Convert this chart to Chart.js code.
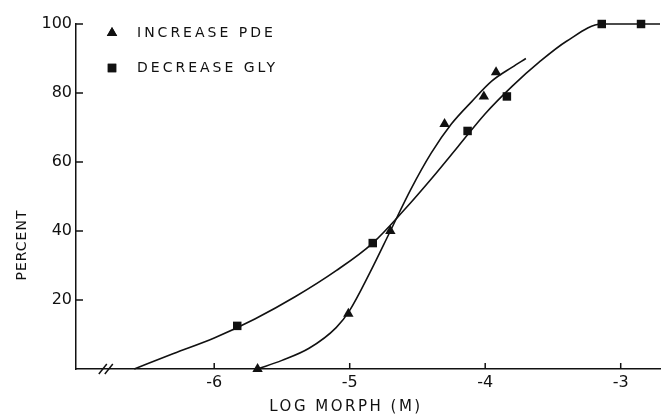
<!DOCTYPE html>
<html>
<head>
<meta charset="utf-8">
<script src="https://cdn.jsdelivr.net/npm/chart.js@4.4.1/dist/chart.umd.min.js"></script>
<style>
  html, body { margin: 0; padding: 0; background: #fff; }
  #wrap { position: relative; width: 666px; height: 415px; }
</style>
</head>
<body>
<div id="wrap"><canvas id="c"></canvas></div>
<script>
// measured points (log molar, percent)
var pdeX = [-5.68, -5.01, -4.70, -4.30, -4.01, -3.92];
var pdeY = [0, 16, 40, 71, 79, 86];
var glyX = [-5.83, -4.83, -4.13, -3.84, -3.14, -2.85];
var glyY = [12.5, 36.5, 69, 79, 100, 100];

// hand-drawn fitted curves
var pdeCurveX = [-5.68, -5.50, -5.30, -5.10, -5.00, -4.85, -4.70, -4.55, -4.40, -4.25, -4.10, -3.95, -3.80, -3.70];
var pdeCurveY = [0, 2.5, 6, 12, 17, 28, 40, 52, 62.5, 71, 77.5, 83.5, 87.5, 90];
var glyCurveX = [-6.59, -6.30, -6.00, -5.70, -5.40, -5.10, -4.83, -4.60, -4.40, -4.20, -4.00, -3.80, -3.60, -3.40, -3.14, -2.71];
var glyCurveY = [0, 4.5, 9, 14.5, 21, 28.5, 36.5, 46, 55, 64.5, 74, 82, 89, 95, 100, 100];

var seriesLabels = ["INCREASE PDE", "DECREASE GLY"];
var seriesStyles = ["triangle", "rect"];
var xTicks = [-6, -5, -4, -3];
var yTicks = [20, 40, 60, 80, 100];
var xTitle = "LOG MORPH (M)";
var yTitle = "PERCENT";
var breakAt = -6.80;

var INK = "#111";
var FONT = "'DejaVu Sans', sans-serif";

function pts(xs, ys) {
  return xs.map(function (x, i) { return { x: x, y: ys[i] }; });
}

var extras = {
  id: "extras",
  afterDraw: function (chart) {
    var ctx = chart.ctx, a = chart.chartArea;
    var xs = chart.scales.x, ys = chart.scales.y;
    ctx.save();
    ctx.strokeStyle = INK;
    ctx.lineWidth = 1.5;
    // inward tick marks
    ys.ticks.forEach(function (t) {
      var py = ys.getPixelForValue(t.value);
      ctx.beginPath(); ctx.moveTo(a.left, py); ctx.lineTo(a.left + 7, py); ctx.stroke();
    });
    xs.ticks.forEach(function (t) {
      var px = xs.getPixelForValue(t.value);
      ctx.beginPath(); ctx.moveTo(px, a.bottom); ctx.lineTo(px, a.bottom - 6); ctx.stroke();
    });
    // axis break
    var bx = xs.getPixelForValue(breakAt);
    [-3, 3].forEach(function (d) {
      ctx.beginPath(); ctx.moveTo(bx + d - 4, a.bottom + 5); ctx.lineTo(bx + d + 4, a.bottom - 5); ctx.stroke();
    });
    // legend
    ctx.fillStyle = INK;
    ctx.font = "14px " + FONT;
    ctx.letterSpacing = "3px";
    ctx.textBaseline = "middle";
    ctx.textAlign = "left";
    var rows = [a.top + 9, a.top + 44];
    seriesLabels.forEach(function (lab, i) {
      Chart.helpers.drawPoint(ctx, { pointStyle: seriesStyles[i], radius: 6, rotation: 0, borderWidth: 0 }, a.left + 36, rows[i]);
      ctx.fill();
      ctx.fillText(lab, a.left + 61, rows[i]);
    });
    // axis titles
    ctx.letterSpacing = "2.5px";
    ctx.font = "15px " + FONT;
    ctx.textAlign = "center";
    ctx.fillText(xTitle, 346, 407);
    ctx.translate(22, 245);
    ctx.rotate(-Math.PI / 2);
    ctx.letterSpacing = "1px";
    ctx.font = "14px " + FONT;
    ctx.fillText(yTitle, 0, 0);
    ctx.restore();
  }
};

var lineBase = { showLine: true, pointRadius: 0, borderColor: INK, borderWidth: 1.6,
  cubicInterpolationMode: "monotone", clip: false, fill: false };
var markBase = { showLine: false, backgroundColor: INK, borderColor: INK, borderWidth: 0,
  pointRadius: 6, clip: false };

new Chart(document.getElementById("c"), {
  type: "scatter",
  data: {
    datasets: [
      Object.assign({ label: "pde curve", data: pts(pdeCurveX, pdeCurveY) }, lineBase),
      Object.assign({ label: "gly curve", data: pts(glyCurveX, glyCurveY) }, lineBase),
      Object.assign({ label: seriesLabels[0], data: pts(pdeX, pdeY), pointStyle: seriesStyles[0] }, markBase),
      Object.assign({ label: seriesLabels[1], data: pts(glyX, glyY), pointStyle: seriesStyles[1] }, markBase)
    ]
  },
  options: {
    responsive: true, maintainAspectRatio: false, animation: false,
    layout: { padding: { top: 24, left: 0, right: 0, bottom: 0 } },
    plugins: { legend: { display: false }, tooltip: { enabled: false } },
    scales: {
      x: {
        type: "linear", min: -7.02, max: -2.71,
        afterBuildTicks: function (s) { s.ticks = xTicks.map(function (v) { return { value: v }; }); },
        afterFit: function (s) { s.height = 46; },
        grid: { display: false, drawTicks: false },
        border: { display: true, color: INK, width: 1.5 },
        ticks: { color: INK, padding: 4, font: { family: FONT, size: 16 }, maxRotation: 0 }
      },
      y: {
        min: 0, max: 100,
        afterBuildTicks: function (s) { s.ticks = yTicks.map(function (v) { return { value: v }; }); },
        afterFit: function (s) { s.width = 76; },
        grid: { display: false, drawTicks: false },
        border: { display: true, color: INK, width: 1.5 },
        ticks: { color: INK, padding: 4, font: { family: FONT, size: 16 } }
      }
    }
  },
  plugins: [extras]
});
</script>
</body>
</html>
